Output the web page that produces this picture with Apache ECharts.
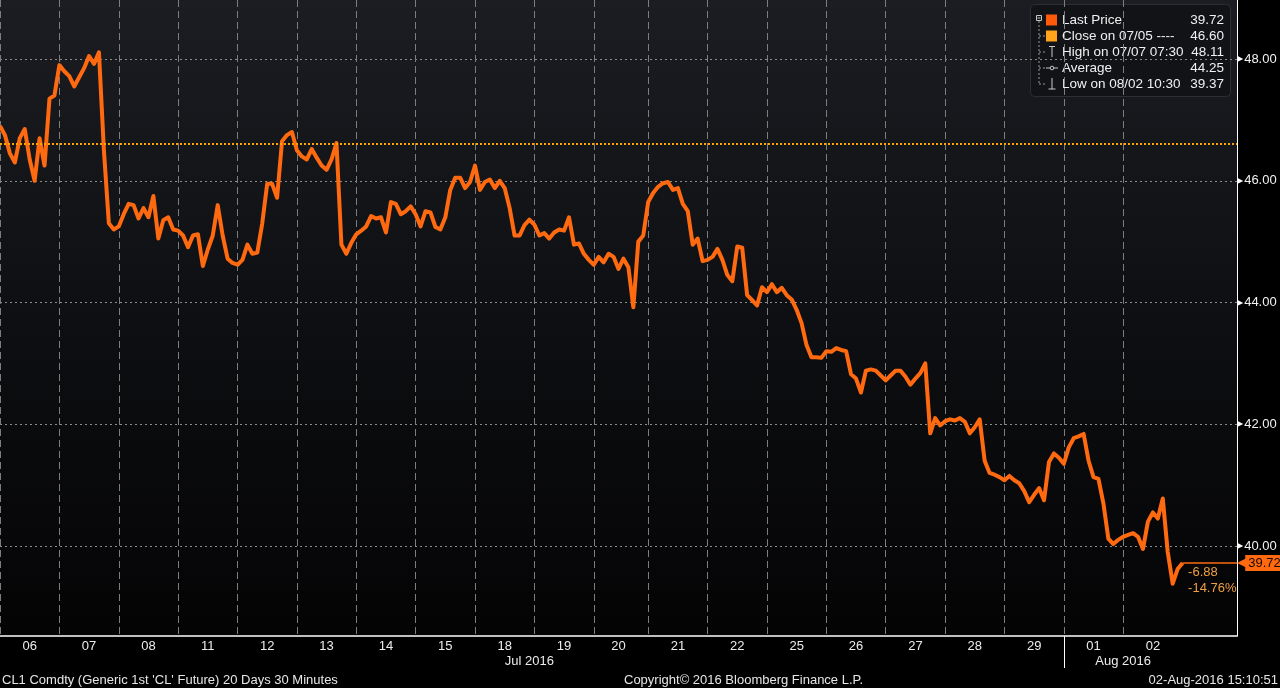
<!DOCTYPE html>
<html>
<head>
<meta charset="utf-8">
<script src="https://cdn.jsdelivr.net/npm/echarts@6/dist/echarts.min.js"></script>
<style>
html,body{margin:0;padding:0;background:#000;}
#c{width:1280px;height:688px;}
</style>
</head>
<body>
<div id="c"></div>
<script>
// ---- data (30-minute prices, sampled per trading day) ----
const dayLabels = ['06','07','08','11','12','13','14','15','18','19','20','21','22','25','26','27','28','29','01','02'];
const d06 = [46.90,46.75,46.45,46.30,46.70,46.85,46.35,46.00,46.70,46.25,47.35,47.40];
const d07 = [47.90,47.80,47.72,47.55,47.70,47.85,48.05,47.92,48.11,46.50,45.30,45.20];
const d08 = [45.25,45.45,45.62,45.60,45.38,45.55,45.40,45.75,45.05,45.35,45.40,45.20];
const d11 = [45.18,45.10,44.91,45.10,45.12,44.60,44.87,45.10,45.60,45.10,44.72,44.65];
const d12 = [44.62,44.70,44.95,44.80,44.82,45.30,45.95,45.95,45.72,46.65,46.75,46.80];
const d13 = [46.50,46.40,46.35,46.52,46.38,46.25,46.18,46.35,46.62,44.95,44.80,44.98];
const d14 = [45.12,45.18,45.25,45.42,45.38,45.40,45.15,45.65,45.62,45.45,45.50,45.58];
const d15 = [45.45,45.25,45.50,45.48,45.24,45.20,45.40,45.85,46.05,46.05,45.88,45.98];
const d18 = [46.25,45.85,45.98,46.02,45.88,46.00,45.88,45.55,45.10,45.10,45.27,45.36];
const d19 = [45.28,45.10,45.14,45.05,45.15,45.20,45.18,45.40,44.95,44.97,44.80,44.70];
const d20 = [44.62,44.75,44.66,44.80,44.75,44.55,44.72,44.58,43.92,45.00,45.10];
const d21 = [45.65,45.80,45.90,45.96,45.98,45.85,45.88,45.62,45.50,44.95,45.05,44.68];
const d22 = [44.70,44.75,44.88,44.70,44.45,44.35,44.92,44.90,44.12,44.04,43.95,44.25];
const d25 = [44.17,44.30,44.17,44.24,44.12,44.05,43.88,43.66,43.30,43.10,43.10,43.09];
const d26 = [43.20,43.19,43.25,43.22,43.20,42.82,42.75,42.52,42.88,42.90,42.88,42.80];
const d27 = [42.72,42.80,42.88,42.88,42.78,42.65,42.75,42.84,43.00,41.85,42.10,41.98];
const d28 = [42.05,42.08,42.06,42.10,42.04,41.85,41.95,42.08,41.40,41.20,41.17,41.13];
const d29 = [41.08,41.15,41.08,41.03,40.90,40.72,40.84,40.95,40.75,41.38,41.52,41.45];
const a01 = [41.35,41.62,41.77,41.80,41.84,41.40,41.13,41.10,40.70,40.12,40.03,40.10];
const a02 = [40.15,40.18,40.21,40.15,39.95,40.40,40.55,40.45,40.78,39.90,39.38,39.62,39.72];
const dayPrices = [d06,d07,d08,d11,d12,d13,d14,d15,d18,d19,d20,d21,d22,d25,d26,d27,d28,d29,a01,a02];
const monthLabels = ['Jul 2016','Aug 2016'];
const monthFirstDay = [0, 18];
const closeLevel = 46.60;
const yTicks = [40, 42, 44, 46, 48];
const legendRows = [
  {label:'Last Price', value:'39.72', icon:'sq', color:'#ff5a0a'},
  {label:'Close on 07/05 ----', value:'46.60', icon:'sq', color:'#ffa31a'},
  {label:'High on 07/07 07:30', value:'48.11', icon:'high'},
  {label:'Average', value:'44.25', icon:'avg'},
  {label:'Low on 08/02 10:30', value:'39.37', icon:'low'}
];
const infoLeft = "CL1 Comdty (Generic 1st 'CL' Future) 20 Days 30 Minutes";
const infoMid = 'Copyright\u00a9 2016 Bloomberg Finance L.P.';
const infoRight = '02-Aug-2016 15:10:51';

// ---- derived ----
const price = [].concat(...dayPrices);
const padSlots = 11;
const cats = Array.from({length: price.length + padSlots}, (_, i) => String(i));
const dayStart = [];
let acc = 0;
dayPrices.forEach(d => { dayStart.push(acc); acc += d.length; });
const dayStartSet = new Set(dayStart);
const labelMap = {};
dayPrices.forEach((d, k) => { labelMap[dayStart[k] + Math.floor(d.length / 2)] = dayLabels[k]; });
const lastIdx = price.length - 1;
const lastPrice = price[lastIdx];
const monthMap = {};
monthFirstDay.forEach((fd, m) => {
  const s = dayStart[fd];
  const e = m + 1 < monthFirstDay.length ? dayStart[monthFirstDay[m + 1]] : lastIdx;
  monthMap[Math.floor((s + e) / 2)] = monthLabels[m];
});
const augStart = dayStart[monthFirstDay[1]];
const chg = lastPrice - closeLevel;
const pct = chg / closeLevel * 100;

const FONT = '"Liberation Sans", Arial, sans-serif';
const LINE = '#ff6a10';

// ---- legend graphic ----
const rowY = [20, 36, 52, 68, 84];
const iconCol = '#c8c8c8';
const lg = [];
lg.push({type:'rect', shape:{x:1030.5, y:4.5, width:200, height:92, r:4},
  style:{fill:'#111317', stroke:'#2c2e33', lineWidth:1}});
lg.push({type:'rect', shape:{x:1036.5, y:15.5, width:5, height:5}, style:{fill:'none', stroke:iconCol, lineWidth:1}});
lg.push({type:'line', shape:{x1:1037.5, y1:18, x2:1040.5, y2:18}, style:{stroke:iconCol, lineWidth:1}});
lg.push({type:'line', shape:{x1:1039, y1:21, x2:1039, y2:84}, style:{stroke:'#9a9a9a', lineWidth:1, lineDash:[2,2]}});
legendRows.forEach((r, i) => {
  const y = rowY[i];
  if (i > 0) lg.push({type:'line', shape:{x1:1039, y1:y, x2:1045, y2:y}, style:{stroke:'#9a9a9a', lineWidth:1, lineDash:[2,2]}});
  if (r.icon === 'sq') {
    lg.push({type:'rect', shape:{x:1046, y:y - 5.5, width:11, height:11}, style:{fill:r.color}});
  } else if (r.icon === 'high') {
    lg.push({type:'line', shape:{x1:1052, y1:y - 6, x2:1052, y2:y + 5}, style:{stroke:iconCol, lineWidth:1}});
    lg.push({type:'line', shape:{x1:1049, y1:y - 5.5, x2:1055, y2:y - 5.5}, style:{stroke:iconCol, lineWidth:1}});
  } else if (r.icon === 'avg') {
    lg.push({type:'line', shape:{x1:1046, y1:y, x2:1058, y2:y}, style:{stroke:iconCol, lineWidth:1}});
    lg.push({type:'circle', shape:{cx:1052, cy:y, r:1.8}, style:{fill:'#111317', stroke:iconCol, lineWidth:1}});
  } else if (r.icon === 'low') {
    lg.push({type:'line', shape:{x1:1052, y1:y - 6, x2:1052, y2:y + 5}, style:{stroke:iconCol, lineWidth:1}});
    lg.push({type:'line', shape:{x1:1048.5, y1:y + 5, x2:1055.5, y2:y + 5}, style:{stroke:iconCol, lineWidth:1}});
  }
  lg.push({type:'text', x:1062, y:y, style:{text:r.label, fill:'#f0f0f0', font:'13.5px ' + FONT, verticalAlign:'middle', align:'left'}});
  lg.push({type:'text', x:1224, y:y, style:{text:r.value, fill:'#f0f0f0', font:'13.5px ' + FONT, verticalAlign:'middle', align:'right'}});
});

const chart = echarts.init(document.getElementById('c'), null, {renderer:'canvas'});
chart.setOption({
  animation: false,
  backgroundColor: '#000',
  grid: {left:0, right:43, top:0, bottom:52, show:true, borderWidth:0,
    backgroundColor: {type:'linear', x:0, y:0, x2:0, y2:1,
      colorStops:[{offset:0, color:'#1b1d22'}, {offset:0.5, color:'#0e0f12'}, {offset:1, color:'#040405'}]}},
  xAxis: [{
    type:'category', data:cats, boundaryGap:false,
    axisLine:{show:true, onZero:false, lineStyle:{color:'#ffffff', width:1.5}},
    axisTick:{show:true, interval:(i) => i === augStart, length:32, lineStyle:{color:'#ffffff', width:1}},
    axisLabel:{interval:(i) => labelMap[i] !== undefined, formatter:(v, i) => labelMap[i] || '',
      color:'#ececec', fontSize:13, fontFamily:FONT, margin:4},
    splitLine:{show:true, interval:(i) => dayStartSet.has(i), lineStyle:{color:'#7d7d7d', type:[7,4], width:1}}
  }, {
    type:'category', data:cats, boundaryGap:false, position:'bottom',
    axisLine:{show:false}, axisTick:{show:false}, splitLine:{show:false},
    axisLabel:{interval:(i) => monthMap[i] !== undefined, formatter:(v, i) => monthMap[i] || '',
      color:'#ececec', fontSize:13, fontFamily:FONT, margin:19}
  }],
  yAxis: {
    type:'value', position:'right', min:38.52, max:48.97, scale:true,
    axisLine:{show:true, lineStyle:{color:'#ffffff', width:1}},
    axisTick:{show:false, customValues:yTicks},
    axisLabel:{customValues:yTicks, margin:0,
      formatter:(v) => '{t|\u25B6}{v|' + Number(v).toFixed(2) + '}',
      rich:{t:{fontSize:8, color:'#ffffff', fontFamily:'"DejaVu Sans"', padding:[0,1,0,0]},
            v:{fontSize:13, color:'#f2f2f2', fontFamily:FONT}}},
    splitLine:{show:true, lineStyle:{color:'#8c8c8c', type:[2,3], width:1}}
  },
  series: [{
    type:'line', data:price, xAxisIndex:0, showSymbol:false, symbol:'none',
    lineStyle:{color:LINE, width:4, join:'round'}, z:3,
    markLine:{silent:true, symbol:['none','none'], animation:false,
      label:{show:false},
      data:[
        {yAxis:closeLevel, lineStyle:{color:'#ffa500', type:[2,2], width:2}, label:{show:false}},
        [
          {coord:[String(lastIdx), lastPrice], lineStyle:{color:LINE, type:'solid', width:1.5},
            label:{show:true, position:'end', distance:0,
              formatter:() => '{a|\u25C0}{b|' + lastPrice.toFixed(2) + '}',
              rich:{a:{color:LINE, fontSize:12, fontFamily:'"DejaVu Sans"', padding:[0,-1,0,0]},
                    b:{color:'#1a0800', backgroundColor:LINE, fontSize:13, fontFamily:FONT, padding:[2,3,1,3]}}}},
          {coord:[String(cats.length - 1), lastPrice], lineStyle:{color:LINE, type:'solid', width:1.5},
            label:{show:true, position:'end', distance:0,
              formatter:() => '{a|\u25C0}{b|' + lastPrice.toFixed(2) + '}',
              rich:{a:{color:LINE, fontSize:12, fontFamily:'"DejaVu Sans"', padding:[0,-1,0,0]},
                    b:{color:'#1a0800', backgroundColor:LINE, fontSize:13, fontFamily:FONT, padding:[2,3,1,3]}}}}
        ]
      ]},
    markPoint:{silent:true, animation:false, symbol:'circle', symbolSize:1, itemStyle:{color:'rgba(0,0,0,0)'},
      data:[{coord:[String(lastIdx), lastPrice],
        label:{show:true, position:[6,2], color:'#f0a040', fontSize:13, fontFamily:FONT, lineHeight:16,
          formatter:() => chg.toFixed(2) + '\n' + pct.toFixed(2) + '%'}}]}
  }],
  graphic: [
    {type:'group', children:lg, z:50},
    {type:'text', x:2, y:680, z:50, style:{text:infoLeft, fill:'#e6e6e6', font:'13px ' + FONT, verticalAlign:'middle', align:'left'}},
    {type:'text', x:624, y:680, z:50, style:{text:infoMid, fill:'#e6e6e6', font:'13px ' + FONT, verticalAlign:'middle', align:'left'}},
    {type:'text', x:1278, y:680, z:50, style:{text:infoRight, fill:'#e6e6e6', font:'13px ' + FONT, verticalAlign:'middle', align:'right'}}
  ]
});
</script>
</body>
</html>
